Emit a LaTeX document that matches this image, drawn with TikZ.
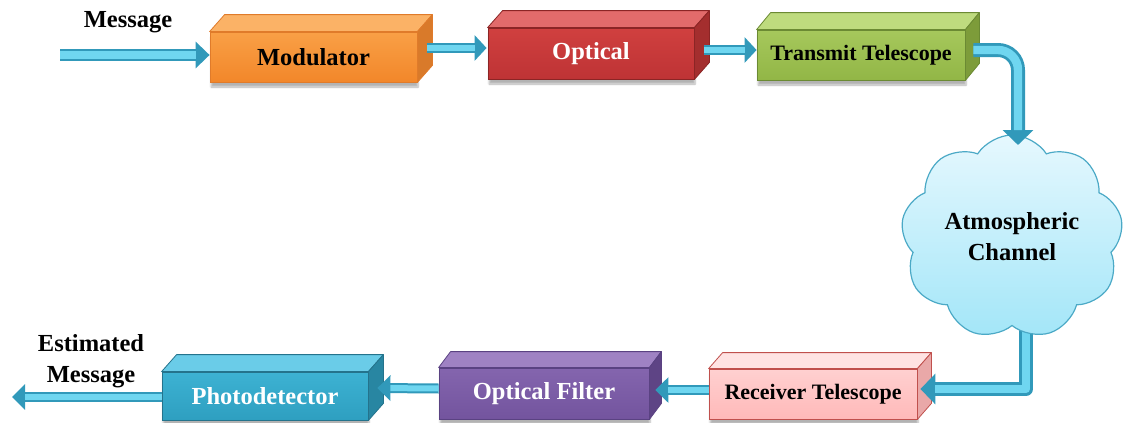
\documentclass[tikz,border=0pt]{standalone}
\usepackage{fontspec}
\setmainfont{Liberation Serif}
\usetikzlibrary{arrows.meta,shapes.symbols,shadows.blur,calc}

% face colours of the blocks
\definecolor{modF1}{HTML}{F9A046}\definecolor{modF2}{HTML}{F2872A}
\definecolor{modT}{HTML}{FBB266}\definecolor{modS}{HTML}{D97A2A}\definecolor{modB}{HTML}{E07B2A}
\definecolor{optF1}{HTML}{D0403F}\definecolor{optF2}{HTML}{BE3335}
\definecolor{optT}{HTML}{E26B6B}\definecolor{optS}{HTML}{A42E2E}\definecolor{optB}{HTML}{8B2525}
\definecolor{ttF1}{HTML}{A6C85C}\definecolor{ttF2}{HTML}{92B646}
\definecolor{ttT}{HTML}{BEDB7E}\definecolor{ttS}{HTML}{7D9C3A}\definecolor{ttB}{HTML}{6B8A33}
\definecolor{pdF1}{HTML}{3DB2D3}\definecolor{pdF2}{HTML}{2E9FC0}
\definecolor{pdT}{HTML}{6ACCE8}\definecolor{pdS}{HTML}{2886A2}\definecolor{pdB}{HTML}{24738C}
\definecolor{ofF1}{HTML}{8465AE}\definecolor{ofF2}{HTML}{73549E}
\definecolor{ofT}{HTML}{9F82C3}\definecolor{ofS}{HTML}{5E4485}\definecolor{ofB}{HTML}{5A4282}
\definecolor{rtF1}{HTML}{FFD0D0}\definecolor{rtF2}{HTML}{FFB9B9}
\definecolor{rtT}{HTML}{FFE3E3}\definecolor{rtS}{HTML}{E9A8A8}\definecolor{rtB}{HTML}{C0504D}
% cloud and connectors
\definecolor{cloudTop}{HTML}{E6F8FE}\definecolor{cloudBot}{HTML}{A3E6F8}\definecolor{cloudEdge}{HTML}{4BA9C6}
\definecolor{tubeMid}{HTML}{3199BA}\definecolor{tubeLight}{HTML}{6FD6F0}

% top and side faces of a block whose front face is node #1
% #2,#3: depth right/up, #4 top colour, #5 side colour, #6 edge colour
\newcommand{\cuboidfaces}[6]{%
  \filldraw[fill=#4, draw=#6, line width=0.8pt, line join=round]
    (#1.north west) -- ++(#2,-#3) -- ($(#1.north east)+(#2,-#3)$) -- (#1.north east) -- cycle;
  \filldraw[fill=#5, draw=#6, line width=0.8pt, line join=round]
    (#1.north east) -- ++(#2,-#3) -- ($(#1.south east)+(#2,-#3)$) -- (#1.south east) -- cycle;
}
% tube-like block arrow: shaft width, head length, head width, path
\newcommand{\tubearrow}[4]{%
  \draw[line width=#1, draw=tubeMid, line join=round, -{Triangle[length=#2, width=#3]}] #4;
  \draw[line width=0.6*#1, draw=tubeLight, line join=round, shorten >=#2] #4;
}

\begin{document}
\begin{tikzpicture}[x=1pt,y=-1pt,
  lbl/.style={font=\fontsize{24.5}{31}\selectfont\bfseries},
  lblsmall/.style={font=\fontsize{22}{28}\selectfont\bfseries},
  face/.style={draw=#1, line width=0.8pt, minimum height=50pt, inner sep=0pt, lbl,
    blur shadow={shadow xshift=1pt, shadow yshift=-5pt, shadow opacity=30, shadow blur steps=6}},
]
\useasboundingbox (0,0) rectangle (1130,423);

% ---- transmitter chain ----
\node[face=modB, top color=modF1, bottom color=modF2, minimum width=207pt] (mod) at (313.5,57) {Modulator};
\cuboidfaces{mod}{15}{17}{modT}{modS}{modB}
\node[face=optB, top color=optF1, bottom color=optF2, minimum width=206pt, minimum height=51pt, text=white] (opt) at (591,53.5) {Optical};
\cuboidfaces{opt}{15}{17}{optT}{optS}{optB}
\node[face=ttB, top color=ttF1, bottom color=ttF2, minimum width=208pt, lblsmall] (tt) at (861,55) {Transmit Telescope};
\cuboidfaces{tt}{14}{17}{ttT}{ttS}{ttB}

% ---- receiver chain ----
\node[face=pdB, top color=pdF1, bottom color=pdF2, minimum width=206pt, minimum height=48pt, text=white] (pd) at (265,396) {Photodetector};
\cuboidfaces{pd}{15}{17}{pdT}{pdS}{pdB}
\node[face=ofB, top color=ofF1, bottom color=ofF2, minimum width=210pt, minimum height=51pt, text=white] (of) at (544,393.5) {Optical Filter};
\cuboidfaces{of}{12}{16}{ofT}{ofS}{ofB}
\node[face=rtB, top color=rtF1, bottom color=rtF2, minimum width=208pt, lblsmall] (rt) at (813,394) {Receiver Telescope};
\cuboidfaces{rt}{14}{16}{rtT}{rtS}{rtB}

% ---- channel ----
\coordinate (chc) at (1012,237);
\tubearrow{14pt}{15pt}{30pt}{($(chc)+(14,80)$) |- ($(rt.east)+(3,-5)$)}
\node[cloud, cloud puffs=9, cloud puff arc=115, aspect=1.1, minimum width=222pt, minimum height=204pt,
      inner sep=0pt, draw=cloudEdge, line width=1.2pt, top color=cloudTop, bottom color=cloudBot,
      align=center, lbl] (ch) at (chc) {Atmospheric\\Channel};

% ---- connectors ----
\coordinate (msgsrc) at (60,55);
\tubearrow{12pt}{14pt}{26pt}{(msgsrc) -- (msgsrc -| mod.west)}
\tubearrow{10pt}{12pt}{25pt}{($(mod.east)+(10,-9)$) -- ($(opt.west)+(-1,-5.5)$)}
\tubearrow{10pt}{12pt}{25pt}{($(opt.east)+(10,-3.5)$) -- ($(tt.west)+(0,-5)$)}
\tubearrow{14pt}{15pt}{30pt}{[rounded corners=20pt] ($(tt.east)+(8,-5)$) -| ($(chc)+(6,-92)$)}
\tubearrow{10pt}{13pt}{25pt}{($(rt.west)+(0,-4)$) -- ($(of.east)+(6,-3.5)$)}
\tubearrow{10pt}{13pt}{25pt}{($(of.west)+(0,-5)$) -- ($(pd.east)+(9,-8)$)}
\coordinate (msgout) at (12,397);
\tubearrow{10pt}{13pt}{25pt}{($(pd.west)+(0,1)$) -- (msgout)}

% ---- labels ----
\node[lbl] (msglbl) at (128,22) {Message};
\node[lbl, align=center] (estlbl) at (91,361) {Estimated\\Message};
\end{tikzpicture}
\end{document}
